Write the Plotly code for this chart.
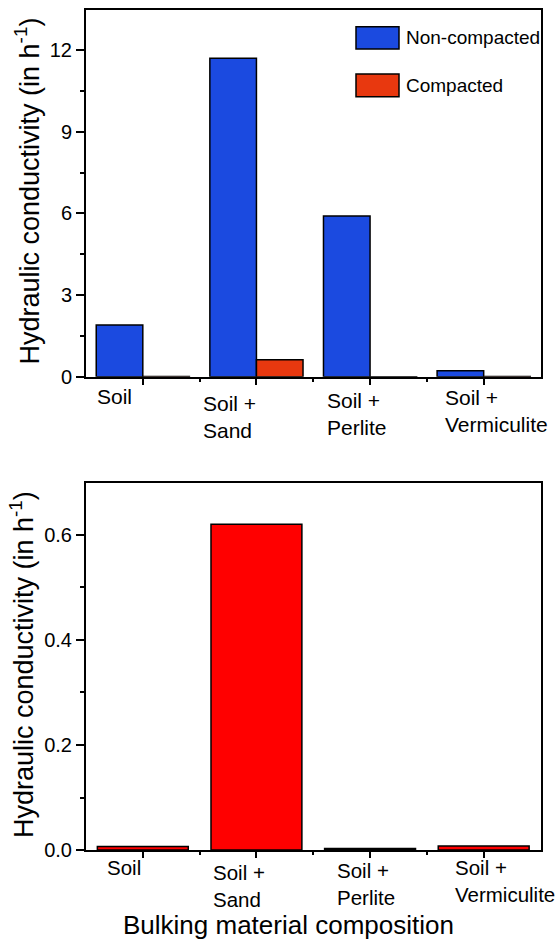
import plotly.graph_objects as go

# ---------------- data ----------------
categories = ["Soil", "Soil +<br>Sand", "Soil +<br>Perlite", "Soil +<br>Vermiculite"]
non_compacted = [1.90, 11.70, 5.90, 0.22]
compacted = [0.007, 0.62, 0.003, 0.008]
series_names = ["Non-compacted", "Compacted"]
top_yticks = [0, 3, 6, 9, 12]
bottom_yticks = [0.0, 0.2, 0.4, 0.6]
bottom_yticklabels = ["0.0", "0.2", "0.4", "0.6"]
y_title = "Hydraulic conductivity (in h<sup>-1</sup>)"
x_title = "Bulking material composition"

# ---------------- style ----------------
W, H = 558, 939
VSCALE = 1.012  # compensates the vertical squeeze seen in the rendered picture
FONT = "Liberation Sans, Arial, sans-serif"
BLUE = "#1b4ae0"
ORANGE = "#e8380f"
RED = "#ff0000"

def px_x(p):
    return p / W

def px_y(p):
    return 1 - (p * VSCALE) / H

xpos = list(range(len(categories)))

fig = go.Figure()
fig.add_trace(go.Bar(x=xpos, y=non_compacted, name=series_names[0], marker=dict(color=BLUE, line=dict(color="black", width=1.5)),
                     xaxis="x", yaxis="y", showlegend=False))
fig.add_trace(go.Bar(x=xpos, y=compacted, name=series_names[1], marker=dict(color=ORANGE, line=dict(color="black", width=1.5)),
                     xaxis="x", yaxis="y", showlegend=False))
fig.add_trace(go.Bar(x=xpos, y=compacted, name=series_names[1], width=0.8, marker=dict(color=RED, line=dict(color="black", width=1.5)),
                     xaxis="x2", yaxis="y2", showlegend=False))

xdom = [px_x(86), px_x(540.5)]
axis_common = dict(showline=True, linecolor="black", linewidth=2, mirror=True, showgrid=False, zeroline=False,
                   ticks="outside", tickcolor="black", tickwidth=2,
                   tickfont=dict(family=FONT, size=20, color="black"))

xaxis_common = dict(axis_common, range=[-0.5, 3.5], tickvals=xpos, showticklabels=False, ticklen=6,
                    minor=dict(tickvals=[0.5, 1.5, 2.5], ticks="outside", ticklen=3, tickwidth=2, tickcolor="black"))

fig.update_layout(
    width=W, height=H, autosize=False, margin=dict(l=0, r=0, t=0, b=0),
    paper_bgcolor="white", plot_bgcolor="white",
    barmode="group", bargap=0.18, bargroupgap=0,
    xaxis=dict(xaxis_common, domain=xdom, anchor="y"),
    yaxis=dict(axis_common, domain=[px_y(376.7), px_y(10)], anchor="x", range=[0, 13.47],
               tickvals=top_yticks, ticklen=8,
               minor=dict(tickvals=[1.5, 4.5, 7.5, 10.5], ticks="outside", ticklen=4, tickwidth=2, tickcolor="black")),
    xaxis2=dict(xaxis_common, domain=xdom, anchor="y2"),
    yaxis2=dict(axis_common, domain=[px_y(850), px_y(483.3)], anchor="x2", range=[0, 0.698],
                tickvals=bottom_yticks, ticktext=bottom_yticklabels, ticklen=8,
                minor=dict(tickvals=[0.1, 0.3, 0.5], ticks="outside", ticklen=4, tickwidth=2, tickcolor="black")),
)

annotations = []
# category labels (left aligned, hand placed as in the original)
top_xshift = [-48, -55, -45, -41]
top_yshift = [-6, -13, -10, -7]
bot_xshift = [-38, -45, -35, -31]
bot_yshift = [-4, -9, -7, -4]
for i, lab in enumerate(categories):
    annotations.append(dict(x=i, y=0, xref="x", yref="y", text=lab, showarrow=False, xanchor="left", yanchor="top",
                            align="left", xshift=top_xshift[i], yshift=top_yshift[i],
                            font=dict(family=FONT, size=21, color="black")))
    annotations.append(dict(x=i, y=0, xref="x2", yref="y2", text=lab, showarrow=False, xanchor="left", yanchor="top",
                            align="left", xshift=bot_xshift[i], yshift=bot_yshift[i],
                            font=dict(family=FONT, size=20.5, color="black")))

# axis titles
for xc, yc in ((27, 191.5), (22, 665)):
    annotations.append(dict(x=px_x(xc), y=px_y(yc), xref="paper", yref="paper", text=y_title, textangle=-90,
                            showarrow=False, xanchor="center", yanchor="middle",
                            font=dict(family=FONT, size=27, color="black")))
annotations.append(dict(x=px_x(289), y=px_y(925), xref="paper", yref="paper", text=x_title, showarrow=False,
                        xanchor="center", yanchor="middle", font=dict(family=FONT, size=26, color="black")))

# legend (swatches + labels)
shapes = []
legend_rows = [(series_names[0], BLUE, 26.7, 49), (series_names[1], ORANGE, 74, 96.7)]
for name, col, y0, y1 in legend_rows:
    shapes.append(dict(type="rect", xref="paper", yref="paper", x0=px_x(356), x1=px_x(399), y0=px_y(y1), y1=px_y(y0),
                       fillcolor=col, line=dict(color="black", width=1.5)))
    annotations.append(dict(x=px_x(404), y=px_y((y0 + y1) / 2), xref="paper", yref="paper", text=name, showarrow=False,
                            xanchor="left", yanchor="middle", font=dict(family=FONT, size=19, color="black")))

fig.update_layout(annotations=annotations, shapes=shapes)
fig.write_html("out.html")
